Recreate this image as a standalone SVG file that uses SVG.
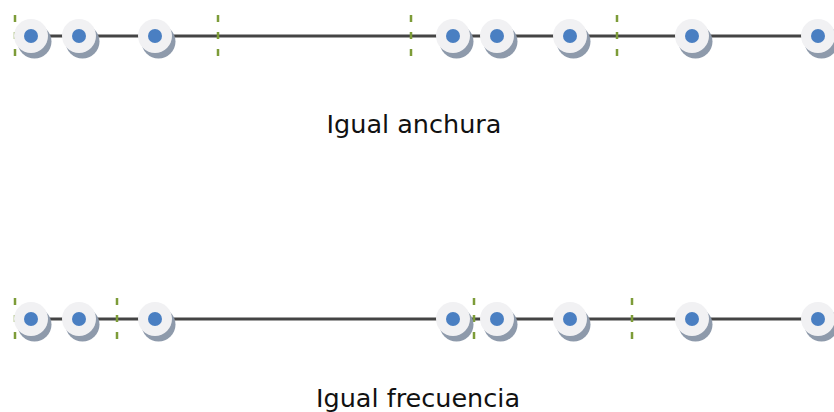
<svg xmlns="http://www.w3.org/2000/svg" width="834" height="412" viewBox="0 0 834 412">
  <style>
    .axis { stroke: #444; stroke-width: 3; fill: none; }
    .cut { stroke: #7d9c38; stroke-width: 2.5; stroke-dasharray: 7 10; fill: none; }
    .shadow { fill: #8e9aab; }
    .disc { fill: #f1f1f3; }
    .dot { fill: #4a7fc2; }
    .label { font-family: "DejaVu Sans", Verdana, sans-serif; font-size: 25.5px; fill: #111; text-anchor: middle; }
  </style>
  <defs>
    <g id="point">
      <circle class="shadow" cx="3.5" cy="5.5" r="17"/>
      <circle class="disc" cx="0" cy="0" r="17"/>
      <circle class="dot" cx="0" cy="0" r="7"/>
    </g>
  </defs>

  <g id="connectors">
    <line class="axis" x1="31" y1="36" x2="818" y2="36"/>
    <line class="axis" x1="31" y1="319" x2="818" y2="319"/>
  </g>

  <!-- equal-width bins -->
  <g id="width-row">
    <g id="w-cuts">
      <line class="cut" x1="15" y1="15" x2="15" y2="58"/>
      <line class="cut" x1="218" y1="15" x2="218" y2="58"/>
      <line class="cut" x1="411" y1="15" x2="411" y2="58"/>
      <line class="cut" x1="617" y1="15" x2="617" y2="58"/>
    </g>
    <g id="w1"><use href="#point" x="31" y="36"/></g>
    <g id="w2"><use href="#point" x="79" y="36"/></g>
    <g id="w3"><use href="#point" x="155" y="36"/></g>
    <g id="w4"><use href="#point" x="453" y="36"/></g>
    <g id="w5"><use href="#point" x="497" y="36"/></g>
    <g id="w6"><use href="#point" x="570" y="36"/></g>
    <g id="w7"><use href="#point" x="692" y="36"/></g>
    <g id="w8"><use href="#point" x="818" y="36"/></g>
    <text class="label" x="414" y="133">Igual anchura</text>
  </g>

  <!-- equal-frequency bins -->
  <g id="freq-row">
    <g id="f-cuts">
      <line class="cut" x1="15" y1="298" x2="15" y2="341"/>
      <line class="cut" x1="117" y1="298" x2="117" y2="341"/>
      <line class="cut" x1="474" y1="298" x2="474" y2="341"/>
      <line class="cut" x1="632" y1="298" x2="632" y2="341"/>
    </g>
    <g id="f1"><use href="#point" x="31" y="319"/></g>
    <g id="f2"><use href="#point" x="79" y="319"/></g>
    <g id="f3"><use href="#point" x="155" y="319"/></g>
    <g id="f4"><use href="#point" x="453" y="319"/></g>
    <g id="f5"><use href="#point" x="497" y="319"/></g>
    <g id="f6"><use href="#point" x="570" y="319"/></g>
    <g id="f7"><use href="#point" x="692" y="319"/></g>
    <g id="f8"><use href="#point" x="818" y="319"/></g>
    <text class="label" x="418" y="407">Igual frecuencia</text>
  </g>
</svg>
